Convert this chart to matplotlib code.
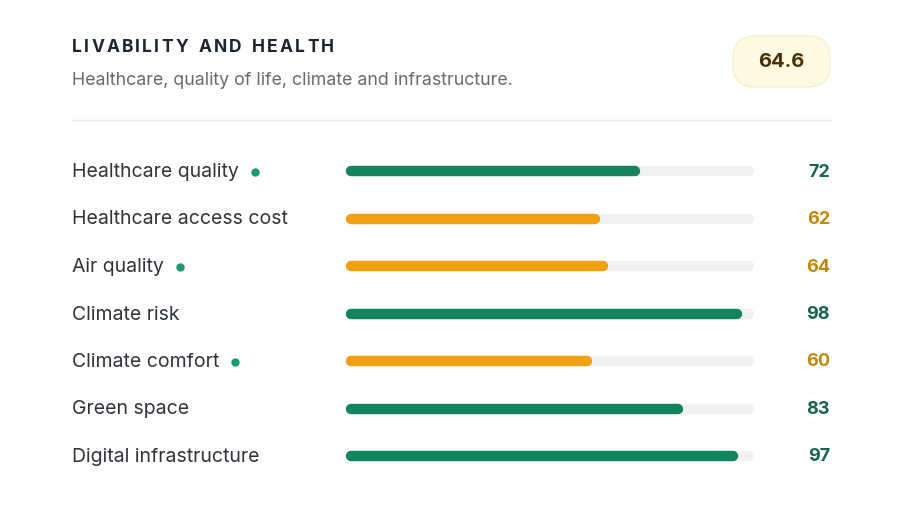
import matplotlib.pyplot as plt
from matplotlib.patches import FancyBboxPatch

labels = ["Healthcare quality", "Healthcare access cost", "Air quality", "Climate risk",
          "Climate comfort", "Green space", "Digital infrastructure"]
values = [72, 62, 64, 98, 60, 83, 97]
flagged = [True, False, True, False, True, False, False]
overall = 64.6

GREEN = "#12855c"
ORANGE = "#f0a010"
GREEN_TXT = "#16664a"
ORANGE_TXT = "#c4860c"

plt.rcParams['font.family'] = ['Inter', 'DejaVu Sans']
fig = plt.figure(figsize=(9, 5.06), dpi=100)
ax = fig.add_axes([0, 0, 1, 1])
ax.set_xlim(0, 900)
ax.set_ylim(506, 0)
ax.axis("off")

# title with some letter spacing
title = "LIVABILITY AND HEALTH"
fig.canvas.draw()
x = 72
for ch in title:
    t = ax.text(x, 47, ch, fontsize=12.5, fontweight="bold", color="#1c2530", va="center")
    w = t.get_window_extent().width if ch != " " else 6
    x += w + 2.2
ax.text(72, 80, "Healthcare, quality of life, climate and infrastructure.", fontsize=12.8,
        color="#666b72", va="center")
badge = FancyBboxPatch((733, 37), 97, 51, boxstyle="round,pad=0,rounding_size=22",
                       fc="#fdf9e2", ec="#f6efcc", lw=1)
ax.add_patch(badge)
ax.text(781.5, 62, f"{overall}", fontsize=14.5, fontweight="bold", color="#4a3208",
        ha="center", va="center")
ax.plot([72, 830], [121, 121], color="#e8e8e8", lw=1)

x0, x1 = 351, 745
for i, (lab, v, fl) in enumerate(zip(labels, values, flagged)):
    y = 172 + i * 47.5
    good = v >= 70
    col = GREEN if good else ORANGE
    t = ax.text(72, y, lab, fontsize=14, color="#30353b", va="center")
    if fl:
        fig.canvas.draw()
        bb = t.get_window_extent()
        ax.plot(bb.x1 + 16, y + 1, "o", ms=5, color="#1a9a6a")
    ax.plot([x0, 749], [y, y], color="#f1f1f1", lw=7.5, solid_capstyle="round")
    ax.plot([x0, x0 + (x1 - x0) * v / 100], [y, y], color=col, lw=7.5,
            solid_capstyle="round")
    ax.text(830, y, str(v), fontsize=13, fontweight="bold", ha="right", va="center",
            color=GREEN_TXT if good else ORANGE_TXT)

fig.savefig("out.png", dpi=100, facecolor="white")
